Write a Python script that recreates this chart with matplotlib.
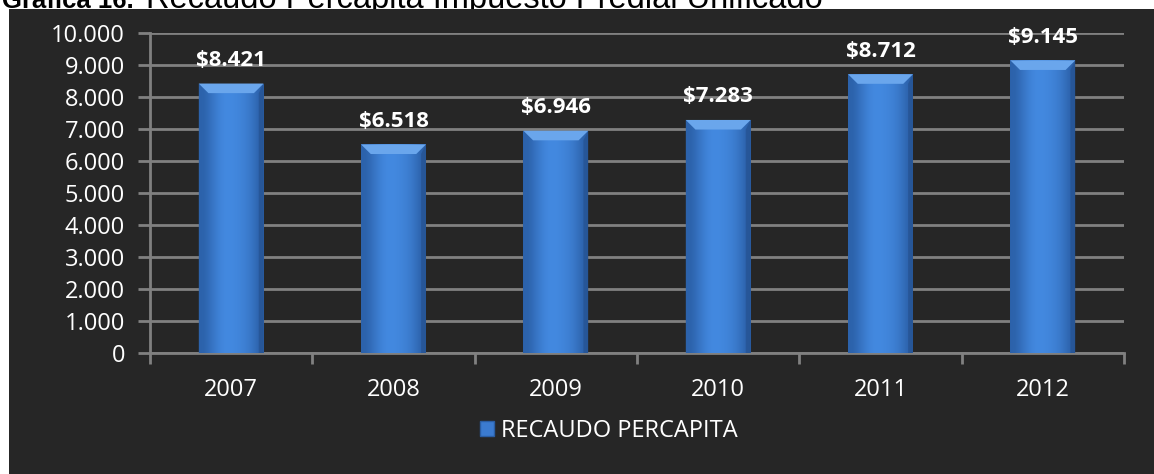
import numpy as np
import matplotlib
matplotlib.use("Agg")
import matplotlib.pyplot as plt
from matplotlib.patches import Rectangle, Polygon, Patch
from matplotlib.ticker import FuncFormatter, MultipleLocator

years = ["2007", "2008", "2009", "2010", "2011", "2012"]
recaudo = [8421, 6518, 6946, 7283, 8712, 9145]
serie = "RECAUDO PERCAPITA"
titulo_num = "Gráfica 16."
titulo = "Recaudo Percápita Impuesto Predial Unificado"

BG = "#262626"
GRID = "#808080"
FONT = ["Open Sans", "DejaVu Sans"]

W, H = 1154, 474
fig = plt.figure(figsize=(W / 100, H / 100), dpi=100)
fig.patch.set_facecolor("white")

# caption above the dark panel (its upper half falls off the page)
fig.text(2 / W, 1 - 8 / H, titulo_num, fontsize=18.5, fontweight="bold",
         family="Liberation Sans", color="black", ha="left", va="baseline", zorder=-3)
fig.text(146 / W, 1 - 8 / H, titulo, fontsize=23.5,
         family="Liberation Sans", color="black", ha="left", va="baseline", zorder=-3)
fig.patches.append(Rectangle((9 / W, 0), 1 - 9 / W, 1 - 9 / H,
                             transform=fig.transFigure, facecolor=BG,
                             edgecolor="none", zorder=-2))

ax = fig.add_axes([150 / W, 1 - 353 / H, (1124 - 150) / W, (353 - 33) / H])
ax.set_facecolor(BG)
ax.patch.set_alpha(0)

x = np.arange(len(years))
bars = ax.bar(x, recaudo, width=0.4, color="#3b7bd0", edgecolor="none", zorder=3)

# horizontal shading across each bar + lighter bevel on the top edge
grad = np.array([0.0, 0.35, 0.75, 1.0, 1.0, 0.9, 0.75, 0.45, 0.0])[None, :]
cmap = matplotlib.colors.LinearSegmentedColormap.from_list("b", ["#2b60a8", "#4389e0"])
for b in bars:
    bx, bw, bh = b.get_x(), b.get_width(), b.get_height()
    im = ax.imshow(grad, extent=(bx, bx + bw, 0, bh), cmap=cmap, aspect="auto",
                   zorder=4, interpolation="bicubic")
    im.set_clip_path(b)
    d, dh = 0.06, 300
    ax.add_patch(Polygon([(bx, bh), (bx + bw, bh), (bx + bw - d, bh - dh), (bx + d, bh - dh)],
                         closed=True, facecolor="#6aa6ec", edgecolor="none", zorder=5))
    ax.add_patch(Polygon([(bx, 0), (bx + d * 0.5, 0), (bx + d * 0.5, bh - dh), (bx, bh)],
                         closed=True, facecolor="#2d64ad", edgecolor="none", zorder=5, alpha=0.6))
    ax.add_patch(Polygon([(bx + bw, 0), (bx + bw - d * 0.5, 0), (bx + bw - d * 0.5, bh - dh), (bx + bw, bh)],
                         closed=True, facecolor="#244f8c", edgecolor="none", zorder=5, alpha=0.6))

for xi, v in zip(x, recaudo):
    ax.annotate(f"${v:,}".replace(",", "."), (xi, v), xytext=(0, 9),
                textcoords="offset points", ha="center", va="bottom",
                fontsize=16, fontweight="bold", color="white", family=FONT, zorder=6)

ax.set_xlim(-0.5, len(years) - 0.5)
ax.set_ylim(0, 10000)
ax.yaxis.set_major_locator(MultipleLocator(1000))
ax.yaxis.set_major_formatter(FuncFormatter(lambda v, p: f"{int(v):,}".replace(",", ".")))
ax.yaxis.grid(True, color=GRID, linewidth=2, zorder=1)
ax.set_axisbelow(True)

ax.set_xticks(np.arange(-0.5, len(years), 1.0))
ax.set_xticklabels([])
ax.set_xticks(x, minor=True)
ax.set_xticklabels(years, minor=True)
ax.tick_params(axis="x", which="major", length=8, width=2, color=GRID, direction="out")
ax.tick_params(axis="x", which="minor", length=0, pad=18, labelsize=17, labelcolor="white")
ax.tick_params(axis="y", length=9, width=2, color=GRID, labelsize=17, labelcolor="white", pad=9)
for lbl in ax.get_xticklabels(minor=True) + ax.get_yticklabels():
    lbl.set_family(FONT)

for s in ["top", "right"]:
    ax.spines[s].set_visible(False)
for s in ["left", "bottom"]:
    ax.spines[s].set_color(GRID)
    ax.spines[s].set_linewidth(2)

handle = Patch(facecolor="#3b7bd0", edgecolor="#2a5da3")
leg = fig.legend([handle], [serie], loc="center", bbox_to_anchor=(609 / W, 1 - 431 / H),
                 frameon=False, prop={"family": FONT, "size": 17},
                 handlelength=0.6, handleheight=0.6, handletextpad=0.3)
for t in leg.get_texts():
    t.set_color("white")

fig.savefig("out.png", dpi=100, facecolor=fig.get_facecolor())
